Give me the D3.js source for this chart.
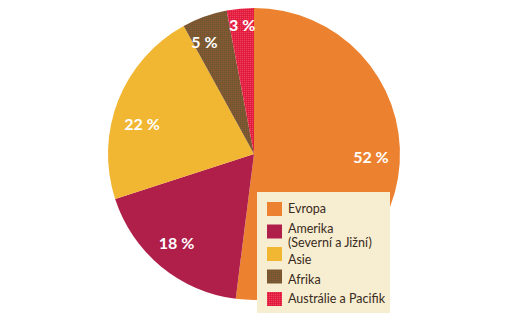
<!DOCTYPE html>
<html>
<head>
<meta charset="utf-8">
<script src="https://cdn.jsdelivr.net/npm/d3@7"></script>
<style>
  html, body { margin: 0; padding: 0; background: #fff; }
  svg { display: block; }
</style>
</head>
<body>
<svg id="chart" width="510" height="325"></svg>
<script>
// ---- data ----
const categories = ["Evropa", "Amerika", "Asie", "Afrika", "Austrálie a Pacifik"];
const legendLabels = [["Evropa"], ["Amerika", "(Severní a Jižní)"], ["Asie"], ["Afrika"], ["Austrálie a Pacifik"]];
const values = [52, 18, 22, 5, 3];
const valueLabels = ["52 %", "18 %", "22 %", "5 %", "3 %"];

// ---- styles ----
const colors = ["#ec8230", "#b01e4a", "#f1b632", "url(#patAfrika)", "url(#patAustr)"];

const svg = d3.select("#chart");
const defs = svg.append("defs");

// stippled textures
const pA = defs.append("pattern").attr("id", "patAfrika").attr("patternUnits", "userSpaceOnUse")
  .attr("width", 2).attr("height", 2);
pA.append("rect").attr("width", 2).attr("height", 2).attr("fill", "#7c5632");
pA.append("rect").attr("width", 1).attr("height", 1).attr("fill", "#6a5a34");
pA.append("rect").attr("x", 1).attr("y", 1).attr("width", 1).attr("height", 1).attr("fill", "#8c5a2e");

const pB = defs.append("pattern").attr("id", "patAustr").attr("patternUnits", "userSpaceOnUse")
  .attr("width", 2).attr("height", 2);
pB.append("rect").attr("width", 2).attr("height", 2).attr("fill", "#e6203f");
pB.append("rect").attr("width", 1).attr("height", 1).attr("fill", "#ee3f66");
pB.append("rect").attr("x", 1).attr("y", 1).attr("width", 1).attr("height", 1).attr("fill", "#dc1a3a");

const cx = 254, cy = 154, R = 146;

const pie = d3.pie().sort(null).value(d => d);
const arcs = pie(values);
const arc = d3.arc().innerRadius(0).outerRadius(R);

const g = svg.append("g").attr("transform", `translate(${cx},${cy})`);
g.selectAll("path.slice").data(arcs).enter().append("path")
  .attr("class", "slice")
  .attr("d", arc)
  .attr("fill", (d, i) => colors[i]);

// labels: centroid on a label ring, small angular/radial nudges
const labelRadius = [117, 118, 116, 122, 129];
const labelAngleNudge = [-0.036, 0.024, -0.115, -0.073, 0.002];
g.selectAll("text.val").data(arcs).enter().append("text")
  .attr("class", "val")
  .attr("x", (d, i) => {
    const a = (d.startAngle + d.endAngle) / 2 + labelAngleNudge[i];
    return labelRadius[i] * Math.sin(a);
  })
  .attr("y", (d, i) => {
    const a = (d.startAngle + d.endAngle) / 2 + labelAngleNudge[i];
    return -labelRadius[i] * Math.cos(a);
  })
  .attr("dy", "0.36em")
  .attr("text-anchor", "middle")
  .attr("fill", "#ffffff")
  .style("font-family", "Lato, 'Liberation Sans', Arial, sans-serif")
  .style("font-weight", "bold")
  .style("font-size", "16px")
  .text((d, i) => valueLabels[i]);

// legend
const lg = svg.append("g").attr("transform", "translate(257,192)");
lg.append("rect").attr("width", 133).attr("height", 121).attr("fill", "#f7eed2");

const swatchStep = 22.5;
const lineH = 14, entryGap = 6.5;
let baseline = 21;
legendLabels.forEach((lines, i) => {
  lg.append("rect")
    .attr("x", 10).attr("y", 10 + i * swatchStep)
    .attr("width", 15).attr("height", 14)
    .attr("fill", colors[i]);
  lines.forEach((ln, j) => {
    lg.append("text")
      .attr("x", 31).attr("y", baseline + j * lineH)
      .attr("fill", "#3a2a20")
      .style("font-family", "Lato, 'Liberation Sans', Arial, sans-serif")
      .style("font-size", "12.5px")
      .text(ln);
  });
  baseline += lines.length * (i === 1 ? 12 : 13) + entryGap + (i === 1 ? 1 : 0);
});
</script>
</body>
</html>
